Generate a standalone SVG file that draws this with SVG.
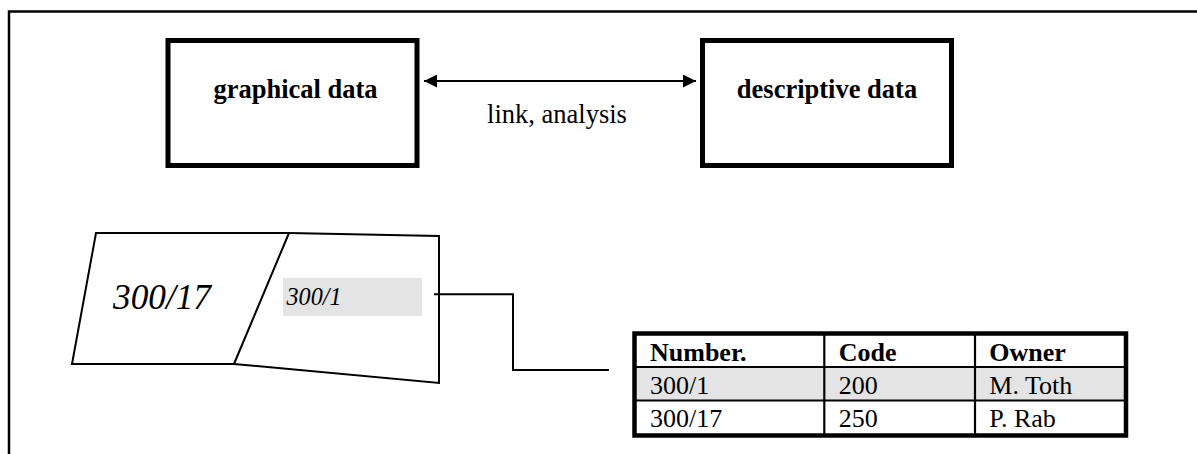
<svg xmlns="http://www.w3.org/2000/svg" width="1197" height="454" viewBox="0 0 1197 454">
  <defs>
    <marker id="arr" viewBox="0 0 10 10" refX="10" refY="5" markerWidth="13" markerHeight="13" orient="auto-start-reverse" markerUnits="userSpaceOnUse">
      <path d="M0,0 L10,5 L0,10 z" fill="#000"/>
    </marker>
  </defs>
  <style>
    text { font-family: "Liberation Serif", "Times New Roman", serif; fill: #000; }
    .box { fill: #fff; stroke: #000; stroke-width: 5; }
    .bold { font-weight: bold; font-size: 26.5px; }
    .reg { font-size: 26.5px; }
    .thin { fill: none; stroke: #000; stroke-width: 2; }
    .cell { font-size: 26px; }
  </style>
  <rect x="0" y="0" width="1197" height="454" fill="#fff"/>
  <rect id="frame" x="9" y="11.5" width="1200" height="460" fill="none" stroke="#000" stroke-width="2.5"/>

  <g id="graphical">
    <rect class="box" x="168" y="40.5" width="249" height="125"/>
    <text class="bold" x="295.5" y="98" text-anchor="middle">graphical data</text>
  </g>
  <g id="descriptive">
    <rect class="box" x="702.5" y="40.5" width="249" height="125"/>
    <text class="bold" x="827" y="98" text-anchor="middle">descriptive data</text>
  </g>

  <g id="parcels">
    <polygon class="thin" points="96,233 289,233 439,236 439,383 234,364 72,364"/>
    <line class="thin" x1="289" y1="233" x2="234" y2="364"/>
    <text x="113" y="309" font-size="35" font-style="italic" textLength="98" lengthAdjust="spacingAndGlyphs">300/17</text>
    <rect x="283" y="278" width="139" height="38" fill="#e4e4e4"/>
    <text x="286.5" y="305" font-size="26" font-style="italic" textLength="55" lengthAdjust="spacingAndGlyphs">300/1</text>
  </g>

  <g id="table">
    <rect x="634.5" y="367" width="491.5" height="33.5" fill="#e4e4e4"/>
    <line x1="634.5" y1="367" x2="1126" y2="367" stroke="#000" stroke-width="2.2"/>
    <line x1="634.5" y1="400.5" x2="1126" y2="400.5" stroke="#000" stroke-width="2.2"/>
    <line x1="824.3" y1="333.5" x2="824.3" y2="435.5" stroke="#000" stroke-width="2.2"/>
    <line x1="975" y1="333.5" x2="975" y2="435.5" stroke="#000" stroke-width="2.2"/>
    <rect x="634.5" y="333.5" width="491.5" height="102" fill="none" stroke="#000" stroke-width="4.5"/>
    <text class="cell" font-weight="bold" x="650" y="361">Number.</text>
    <text class="cell" font-weight="bold" x="838.7" y="361">Code</text>
    <text class="cell" font-weight="bold" x="989.3" y="361">Owner</text>
    <text class="cell" x="650" y="394">300/1</text>
    <text class="cell" x="838.7" y="394">200</text>
    <text class="cell" x="989.3" y="394">M. Toth</text>
    <text class="cell" x="650" y="427">300/17</text>
    <text class="cell" x="838.7" y="427">250</text>
    <text class="cell" x="989.3" y="427">P. Rab</text>
  </g>

  <g id="connectors">
    <line x1="424" y1="81" x2="696" y2="81" stroke="#000" stroke-width="2" marker-start="url(#arr)" marker-end="url(#arr)"/>
    <text class="reg" x="557" y="123" text-anchor="middle">link, analysis</text>
    <polyline class="thin" points="434,294.3 513,294.3 513,370 609,370"/>
  </g>
</svg>
